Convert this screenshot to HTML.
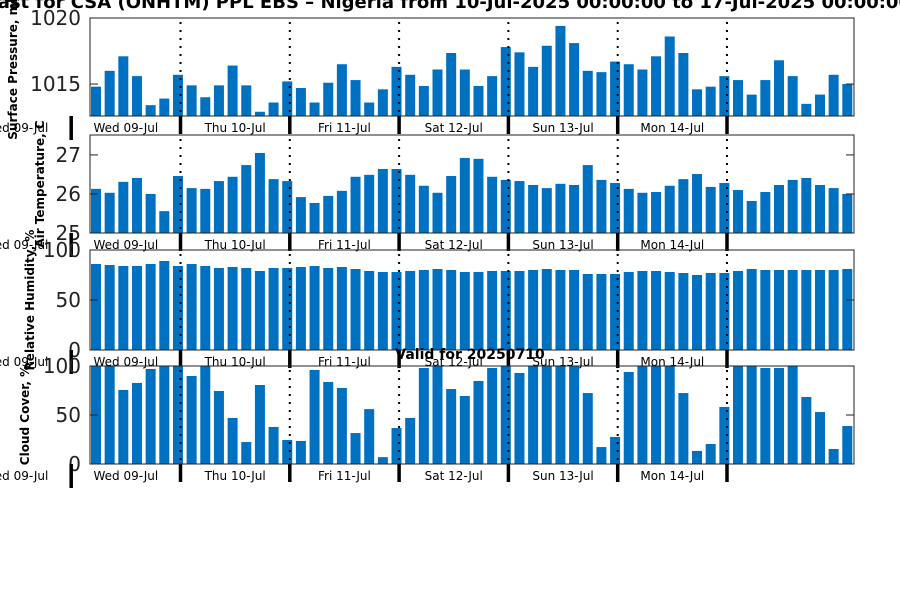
<!DOCTYPE html>
<html><head><meta charset="utf-8"><style>
body{margin:0;background:#fff;}
svg{display:block;font-family:"DejaVu Sans","Liberation Sans",sans-serif;}
</style></head><body>
<svg id="c" width="900" height="600" viewBox="0 0 900 600">
<text x="-58" y="8" font-size="18" font-weight="bold" fill="#000">Forecast for CSA (ONHTM) PPL EBS  – Nigeria from 10-Jul-2025 00:00:00 to 17-Jul-2025 00:00:00</text>
<g id="panels"></g>
<text x="470" y="359" font-size="14" font-weight="bold" text-anchor="middle" fill="#000">Valid for 20250710</text>
</svg>
<script>
const dayLabels = ["Wed 09-Jul","Wed 09-Jul","Thu 10-Jul","Fri 11-Jul","Sat 12-Jul","Sun 13-Jul","Mon 14-Jul"];
const pressure = [1014.8,1016.0,1017.1,1015.6,1013.4,1013.9,1015.7,1014.9,1014.0,1014.9,1016.4,1014.9,1012.9,1013.6,1015.2,1014.7,1013.6,1015.1,1016.5,1015.3,1013.6,1014.6,1016.3,1015.7,1014.85,1016.1,1017.35,1016.1,1014.85,1015.6,1017.8,1017.4,1016.3,1017.9,1019.4,1018.1,1016.0,1015.9,1016.7,1016.5,1016.1,1017.1,1018.6,1017.35,1014.6,1014.8,1015.6,1015.3,1014.2,1015.3,1016.8,1015.6,1013.5,1014.2,1015.7,1015.0];
const temperature = [26.13,26.03,26.31,26.41,26.0,25.56,26.46,26.15,26.13,26.33,26.44,26.74,27.05,26.38,26.33,25.92,25.77,25.95,26.08,26.44,26.49,26.64,26.64,26.49,26.21,26.03,26.46,26.92,26.9,26.44,26.36,26.33,26.23,26.15,26.26,26.23,26.74,26.36,26.28,26.13,26.03,26.05,26.21,26.38,26.51,26.18,26.28,26.1,25.82,26.05,26.23,26.36,26.41,26.23,26.15,26.0];
const humidity = [86,85,84,84,86,89,84,86,84,82,83,82,79,82,82,83,84,82,83,81,79,78,78,79,80,81,80,78,78,79,79,79,80,81,80,80,76,76,76,78,79,79,78,77,75,77,77,79,81,80,80,80,80,80,80,81];
const cloud = [100,100,75.5,82.7,97,100,100,89.8,100,74.5,47,22.4,80.6,37.8,24.5,23.5,96,83.7,77.6,31.6,56,7,36.7,47,98,100,76.5,69.4,84.7,98,100,92.9,100,100,100,100,72.4,17.3,27.6,93.9,100,100,100,72.4,13.3,20.4,58.2,100,100,98,98,100,68.4,53,15.3,38.8];
const pTicks = [1015,1020], tTicks = [25,26,27], hTicks = [0,50,100], cTicks = [0,50,100];

const NS="http://www.w3.org/2000/svg";
const root=document.getElementById('panels');
function mk(tag,attrs,parent){const e=document.createElementNS(NS,tag);for(const k in attrs)e.setAttribute(k,attrs[k]);(parent||root).appendChild(e);return e;}
const X0=90,X1=854,STEP=13.66,BW=10;
function xBar(i){return 91+STEP*i;}
function xDay(k){return 71.2+109.3*k;} // k=0 -> Wed boundary
const panels=[
 {name:'pressure',data:pressure,ticks:pTicks,min:1012.58,max:1020,top:18,bot:116,label:'Surface Pressure, mb',lx:13,ly:67},
 {name:'temperature',data:temperature,ticks:tTicks,min:25,max:27.51,top:135,bot:233,label:'Air Temperature, C',lx:40,ly:184},
 {name:'humidity',data:humidity,ticks:hTicks,min:0,max:100,top:250,bot:350,label:'Relative Humidity, %',lx:30,ly:300},
 {name:'cloud-cover',data:cloud,ticks:cTicks,min:0,max:100,top:366,bot:464,label:'Cloud Cover, %',lx:25,ly:415}
];
panels.forEach(p=>{
 const g=mk('g',{});
 
 
 const y=v=>p.bot-(v-p.min)/(p.max-p.min)*(p.bot-p.top);
 const clip=mk('clipPath',{id:'cl-'+p.name},g);
 mk('rect',{x:X0,y:p.top,width:X1-X0,height:p.bot-p.top},clip);
 const bars=mk('g',{'clip-path':'url(#cl-'+p.name+')'},g);
 p.data.forEach((v,i)=>{
  const yy=Math.max(y(v),p.top-2);
  const r=mk('rect',{x:xBar(i),y:yy,width:BW,height:p.bot-yy,fill:'#0070C0'},bars);
  
  
 });
 for(let k=1;k<=6;k++){
  const l=mk('line',{x1:xDay(k),x2:xDay(k),y1:p.top+4,y2:p.bot,stroke:'#000','stroke-width':2,'stroke-dasharray':'2,6'},g);
  
  
 }
 const fr=mk('rect',{x:X0,y:p.top,width:X1-X0,height:p.bot-p.top,fill:'none',stroke:'#222','stroke-width':1},g);
 
 
 p.ticks.forEach(t=>{
  const yy=y(t);
  mk('line',{x1:X0,x2:X0+8,y1:yy,y2:yy,stroke:'#222'},g);
  mk('line',{x1:X1-8,x2:X1,y1:yy,y2:yy,stroke:'#222'},g);
  const tx=mk('text',{x:81,y:yy+7,'font-size':20,'text-anchor':'end',fill:'#222'},g);
  tx.textContent=t;
  
  
 });
 for(let k=0;k<=6;k++){
  mk('line',{x1:xDay(k),x2:xDay(k),y1:p.bot,y2:p.bot+(k==0?24:18),stroke:'#000','stroke-width':3.5},g);
 }
 dayLabels.forEach((d,j)=>{
  const cx=j==0?16:(xDay(j-1)+xDay(j))/2;
  const tx=mk('text',{x:cx,y:p.bot+16,'font-size':12,'text-anchor':'middle',fill:'#000'},g);
  tx.textContent=d;
  
  
 });
 const yl=mk('text',{x:0,y:0,'font-size':12,'font-weight':'bold','text-anchor':'middle',fill:'#000',transform:'translate('+(p.lx+4)+','+p.ly+') rotate(-90)'},g);
 yl.textContent=p.label;
 
 
});
</script>
</body></html>
